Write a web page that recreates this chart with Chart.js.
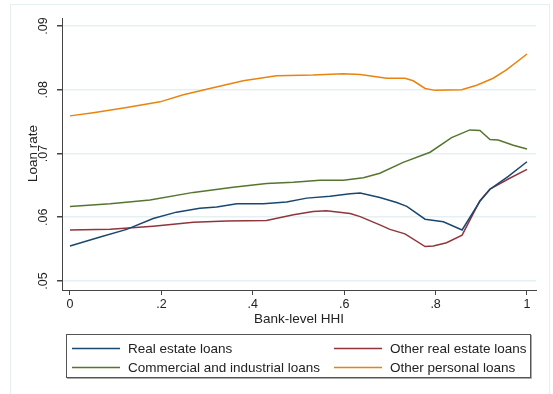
<!DOCTYPE html>
<html>
<head>
<meta charset="utf-8">
<script src="https://cdn.jsdelivr.net/npm/chart.js@4"></script>
<style>
  html, body { margin: 0; padding: 0; background: #fff; }
  #wrap { width: 553px; height: 394px; }
</style>
</head>
<body>
<div id="wrap"><canvas id="rates-chart" width="553" height="394"></canvas></div>
<script>
// loan rates against bank-level HHI, one curve per loan type
const realEstateHHI = [0, 0.066, 0.124, 0.182, 0.233, 0.284, 0.321, 0.365, 0.423, 0.474, 0.518, 0.569, 0.613, 0.635, 0.678, 0.715, 0.737, 0.777, 0.817, 0.858, 0.897, 0.919, 0.959, 1.0];
const realEstateRate = [0.0555, 0.0569, 0.0581, 0.0598, 0.0608, 0.0614, 0.0616, 0.0621, 0.0621, 0.0624, 0.0630, 0.0633, 0.0637, 0.0638, 0.0631, 0.0623, 0.0617, 0.0597, 0.0593, 0.0580, 0.0625, 0.0644, 0.0664, 0.0687];

const otherRealEstateHHI = [0, 0.088, 0.182, 0.27, 0.343, 0.43, 0.489, 0.532, 0.561, 0.613, 0.635, 0.678, 0.70, 0.733, 0.777, 0.795, 0.824, 0.858, 0.897, 0.919, 0.959, 1.0];
const otherRealEstateRate = [0.0580, 0.0581, 0.0586, 0.0592, 0.0594, 0.0595, 0.0604, 0.0609, 0.0610, 0.0606, 0.0601, 0.0588, 0.0581, 0.0574, 0.0554, 0.0555, 0.0560, 0.0572, 0.0626, 0.0644, 0.0660, 0.0675];

const commercialHHI = [0, 0.088, 0.175, 0.27, 0.357, 0.43, 0.489, 0.547, 0.598, 0.642, 0.678, 0.729, 0.788, 0.835, 0.875, 0.897, 0.919, 0.937, 0.970, 1.0];
const commercialRate = [0.0617, 0.0621, 0.0627, 0.0639, 0.0647, 0.0653, 0.0655, 0.0658, 0.0658, 0.0662, 0.0669, 0.0686, 0.0702, 0.0725, 0.0737, 0.0736, 0.0722, 0.0721, 0.0713, 0.0707];

const personalHHI = [0, 0.051, 0.124, 0.197, 0.248, 0.306, 0.379, 0.452, 0.532, 0.598, 0.635, 0.693, 0.733, 0.751, 0.777, 0.799, 0.857, 0.890, 0.926, 0.955, 1.0];
const personalRate = [0.0759, 0.0764, 0.0772, 0.0781, 0.0792, 0.0802, 0.0814, 0.0822, 0.0823, 0.0825, 0.0824, 0.0818, 0.0818, 0.0814, 0.0802, 0.0799, 0.0800, 0.0807, 0.0818, 0.0831, 0.0856];

const seriesNames = ["Real estate loans", "Other real estate loans", "Commercial and industrial loans", "Other personal loans"];
const seriesColors = ["#1a476f", "#90353b", "#55752f", "#e8840e"];

const xTicks = [0, 0.2, 0.4, 0.6, 0.8, 1];
const xTickLabels = ["0", ".2", ".4", ".6", ".8", "1"];
const yTicks = [0.05, 0.06, 0.07, 0.08, 0.09];
const yTickLabels = [".05", ".06", ".07", ".08", ".09"];

function toPoints(xs, ys) {
  return xs.map((x, i) => ({ x: x, y: ys[i] }));
}

const FONT = 'Arial, "Liberation Sans", sans-serif';
Chart.defaults.font.family = FONT;
Chart.defaults.color = "#222";

// rotated y labels, y title, outer frame and the boxed two-column legend
const stataDecor = {
  id: "stataDecor",
  beforeDraw(chart) {
    const ctx = chart.ctx;
    ctx.save();
    ctx.fillStyle = "#fff";
    ctx.fillRect(0, 0, chart.width, chart.height);
    ctx.strokeStyle = "#e6eff1";
    ctx.lineWidth = 1;
    ctx.strokeRect(10.5, 4.5, 539, 400);
    ctx.restore();
  },
  afterDraw(chart) {
    const ctx = chart.ctx;
    const y = chart.scales.y;
    ctx.save();
    ctx.fillStyle = "#222";
    ctx.font = "12.5px " + FONT;
    ctx.textAlign = "center";
    ctx.textBaseline = "middle";
    yTicks.forEach((v, i) => {
      ctx.save();
      ctx.translate(43.5, y.getPixelForValue(v));
      ctx.rotate(-Math.PI / 2);
      ctx.fillText(yTickLabels[i], 0, 0);
      ctx.restore();
    });
    ctx.font = "13.5px " + FONT;
    ctx.save();
    ctx.translate(33, y.getPixelForValue(0.07));
    ctx.rotate(-Math.PI / 2);
    ctx.fillText("Loan rate", 0, 0);
    ctx.restore();

    // legend box with a soft shadow on the lower and right edges
    ctx.strokeStyle = "#aaa";
    ctx.lineWidth = 1;
    ctx.beginPath();
    ctx.moveTo(67, 378.5);
    ctx.lineTo(531.5, 378.5);
    ctx.lineTo(531.5, 335);
    ctx.stroke();
    ctx.strokeStyle = "#555";
    ctx.strokeRect(66.5, 334.5, 464, 43);
    const cols = [72, 334];
    const rows = [348, 367];
    ctx.font = "13.5px " + FONT;
    ctx.textAlign = "left";
    chart.data.datasets.forEach((ds, i) => {
      const cx = cols[i % 2];
      const cy = rows[Math.floor(i / 2)];
      ctx.strokeStyle = ds.borderColor;
      ctx.lineWidth = 1.5;
      ctx.beginPath();
      ctx.moveTo(cx, cy + 0.5);
      ctx.lineTo(cx + 48, cy + 0.5);
      ctx.stroke();
      ctx.fillStyle = "#222";
      ctx.fillText(ds.label, cx + 56, cy + 1);
    });
    ctx.restore();
  }
};

const datasets = [
  toPoints(realEstateHHI, realEstateRate),
  toPoints(otherRealEstateHHI, otherRealEstateRate),
  toPoints(commercialHHI, commercialRate),
  toPoints(personalHHI, personalRate)
].map((pts, i) => ({
  label: seriesNames[i],
  data: pts,
  borderColor: seriesColors[i],
  backgroundColor: seriesColors[i],
  borderWidth: 1.5,
  showLine: true,
  pointRadius: 0,
  tension: 0,
  fill: false
}));

let ctx = document.getElementById("rates-chart").getContext("2d");
new Chart(ctx, {
  type: "scatter",
  data: { datasets: datasets },
  plugins: [stataDecor],
  options: {
    responsive: false,
    animation: false,
    maintainAspectRatio: false,
    layout: { padding: { top: 18, right: 17, left: 0, bottom: 64 } },
    plugins: {
      legend: { display: false },
      tooltip: { enabled: false }
    },
    scales: {
      x: {
        type: "linear",
        min: -0.0175,
        max: 1.0197,
        afterBuildTicks: (s) => { s.ticks = xTicks.map((v) => ({ value: v })); },
        afterFit: (s) => { s.height = 40; },
        ticks: {
          autoSkip: false,
          maxRotation: 0,
          padding: 2,
          font: { size: 12.5 },
          color: "#222",
          callback: (v, i) => xTickLabels[i]
        },
        grid: { drawOnChartArea: false, drawTicks: true, tickLength: 5, tickColor: "#444" },
        border: { display: true, color: "#444", width: 1 },
        title: { display: true, text: "Bank-level HHI", font: { size: 13.5 }, color: "#222", padding: { top: 0, bottom: 3 } }
      },
      y: {
        type: "linear",
        min: 0.04859,
        max: 0.09125,
        afterBuildTicks: (s) => { s.ticks = yTicks.map((v) => ({ value: v })); },
        afterFit: (s) => { s.width = 62; },
        ticks: { display: false },
        grid: { color: "#e6eff1", lineWidth: 1.5, drawTicks: true, tickLength: 5, tickColor: "#444" },
        border: { display: true, color: "#444", width: 1 }
      }
    }
  }
});
</script>
</body>
</html>
